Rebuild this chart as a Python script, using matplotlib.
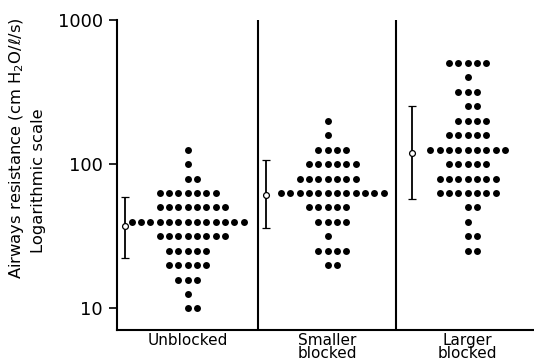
import numpy as np
import matplotlib
matplotlib.use("Agg")
import matplotlib.pyplot as plt

# Data: dot-plot levels (log scale, 0.1-decade steps) and counts per level
groups = ["Unblocked", "Smaller\nblocked", "Larger\nblocked"]
levels_unblocked = [126, 100, 79, 63, 50, 39.8, 31.6, 25, 20, 15.8, 12.6, 10]
counts_unblocked = [1, 1, 2, 7, 8, 13, 8, 5, 5, 3, 1, 2]
levels_smaller = [200, 158, 126, 100, 79, 63, 50, 39.8, 31.6, 25, 20]
counts_smaller = [1, 1, 4, 6, 7, 12, 5, 4, 1, 4, 2]
levels_larger = [501, 398, 316, 251, 200, 158, 126, 100, 79, 63, 50, 39.8, 31.6, 25]
counts_larger = [5, 1, 3, 2, 4, 5, 9, 5, 7, 7, 2, 1, 2, 2]
# Geometric mean and spread (error bars)
means = [37, 61, 120]
err_low = [22.2, 35.8, 57]
err_high = [59.3, 106.6, 253]
yticks = [10, 100, 1000]
ytick_labels = ["10", "100", "1000"]

fig = plt.figure(figsize=(5.34, 3.62), dpi=100)
ax = fig.add_axes([0.219, 0.0884, 0.781, 0.857])
ax.set_yscale("log")
ax.set_ylim(7.07, 1000)
ax.set_xlim(-0.505, 2.474)

dx = 0.0668
all_levels = [levels_unblocked, levels_smaller, levels_larger]
all_counts = [counts_unblocked, counts_smaller, counts_larger]
for gi, (lv, ct) in enumerate(zip(all_levels, all_counts)):
    for v, n in zip(lv, ct):
        offs = np.arange(n) - (n - 1) // 2
        ax.plot(gi + offs * dx, [v] * n, "o", color="black", markersize=5.0,
                markeredgewidth=0, linestyle="none")

ebx = [-0.45, 0.558, 1.602]
for x, m, lo, hi in zip(ebx, means, err_low, err_high):
    ax.errorbar([x], [m], yerr=[[m - lo], [hi - m]], fmt="o", color="black",
                mfc="white", mec="black", markersize=4.2, mew=0.9,
                elinewidth=1.3, capsize=3, capthick=1.3, zorder=3)

for xd in [0.502, 1.488]:
    ax.axvline(xd, color="black", lw=1.5)

ax.spines["top"].set_visible(False)
ax.spines["right"].set_visible(False)
ax.spines["left"].set_linewidth(1.5)
ax.spines["bottom"].set_linewidth(1.5)
ax.set_yticks(yticks)
ax.set_yticklabels(ytick_labels, fontsize=13)
ax.yaxis.set_minor_locator(matplotlib.ticker.NullLocator())
ax.tick_params(axis="y", direction="out", length=6, width=1.2, pad=4)
ax.set_xticks([0, 1, 2])
ax.set_xticklabels(groups, fontsize=11, linespacing=0.85, va="top")
ax.tick_params(axis="x", length=0, pad=2)

fig.text(0.030, 0.59, "Airways resistance (cm H$_2$O/ℓ/s)", rotation=90,
         ha="center", va="center", fontsize=11.8)
fig.text(0.073, 0.50, "Logarithmic scale", rotation=90,
         ha="center", va="center", fontsize=11.8)

fig.savefig("out.png", dpi=100)
